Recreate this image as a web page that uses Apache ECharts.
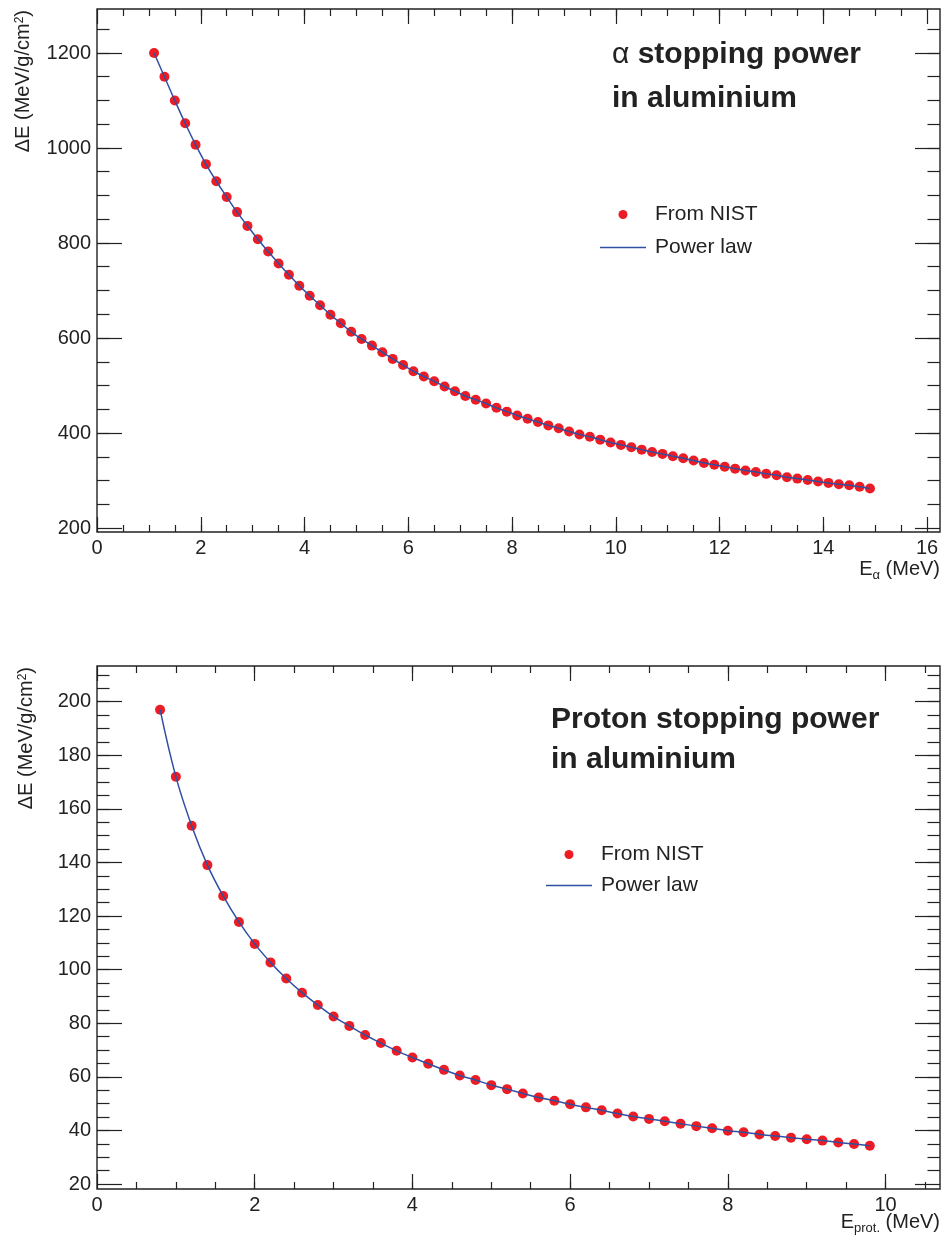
<!DOCTYPE html>
<html>
<head>
<meta charset="utf-8">
<title>Stopping power in aluminium</title>
<script src="https://cdn.jsdelivr.net/npm/echarts@6/dist/echarts.min.js"></script>
<style>
  html, body { margin: 0; padding: 0; background: #fff; }
  #container { width: 944px; height: 1241px; }
</style>
</head>
<body>
<div id="container"></div>
<script>
// alpha particles in Al (NIST points), MeV and MeV/g/cm2
const alphaEnergy = [
  1.1, 1.3, 1.5, 1.7, 1.9, 2.1, 2.3, 2.5, 2.7, 2.9,
  3.1, 3.3, 3.5, 3.7, 3.9, 4.1, 4.3, 4.5, 4.7, 4.9,
  5.1, 5.3, 5.5, 5.7, 5.9, 6.1, 6.3, 6.5, 6.7, 6.9,
  7.1, 7.3, 7.5, 7.7, 7.9, 8.1, 8.3, 8.5, 8.7, 8.9,
  9.1, 9.3, 9.5, 9.7, 9.9, 10.1, 10.3, 10.5, 10.7, 10.9,
  11.1, 11.3, 11.5, 11.7, 11.9, 12.1, 12.3, 12.5, 12.7, 12.9,
  13.1, 13.3, 13.5, 13.7, 13.9, 14.1, 14.3, 14.5, 14.7, 14.9
];
const alphaStopping = [
  1200, 1150, 1100, 1052, 1007, 966, 930, 897, 865, 836,
  808, 782, 757, 733, 710, 689, 669, 649, 631, 613,
  598, 584, 570, 556, 543, 530, 519, 509, 498, 488,
  478, 470, 462, 453, 445, 437, 430, 423, 416, 410,
  403, 397, 392, 386, 380, 375, 370, 365, 360, 356,
  351, 347, 342, 337, 333, 329, 325, 321, 318, 314,
  311, 307, 304, 301, 298, 295, 292, 290, 287, 283
];

// protons in Al
const protonEnergy = [
  0.8, 1.0, 1.2, 1.4, 1.6, 1.8, 2.0, 2.2, 2.4, 2.6,
  2.8, 3.0, 3.2, 3.4, 3.6, 3.8, 4.0, 4.2, 4.4, 4.6,
  4.8, 5.0, 5.2, 5.4, 5.6, 5.8, 6.0, 6.2, 6.4, 6.6,
  6.8, 7.0, 7.2, 7.4, 7.6, 7.8, 8.0, 8.2, 8.4, 8.6,
  8.8, 9.0, 9.2, 9.4, 9.6, 9.8
];
const protonStopping = [
  197.0, 172.0, 153.7, 139.0, 127.5, 117.8, 109.6, 102.7, 96.7, 91.4,
  86.8, 82.5, 79.0, 75.6, 72.6, 69.7, 67.2, 64.9, 62.6, 60.5,
  58.8, 56.9, 55.4, 53.8, 52.3, 51.1, 49.8, 48.6, 47.5, 46.3,
  45.2, 44.3, 43.4, 42.5, 41.6, 40.8, 39.9, 39.3, 38.5, 37.9,
  37.3, 36.7, 36.2, 35.5, 34.9, 34.3
];

// tick labels
const alphaXTicks = [0, 2, 4, 6, 8, 10, 12, 14, 16];
const alphaYTicks = [200, 400, 600, 800, 1000, 1200];
const protonXTicks = [0, 2, 4, 6, 8, 10];
const protonYTicks = [20, 40, 60, 80, 100, 120, 140, 160, 180, 200];

const ink = '#222';
const red = '#ec1c24';
const blue = '#2f4fa2';
const font = "'Liberation Sans', Arial, Helvetica, sans-serif";

// small ticks between the labelled ones
function minorTicks(from, to, step) {
  const out = [];
  for (let i = 0; from + i * step <= to + 1e-9; i++) {
    out.push(Math.round((from + i * step) * 1000) / 1000);
  }
  return out;
}

function pairs(xs, ys) {
  return xs.map((x, i) => [x, ys[i]]);
}

function tick(len, values) {
  return { show: true, inside: true, length: len, customValues: values, lineStyle: { color: ink, width: 1.2 } };
}

function tickLabel(values) {
  return { customValues: values, margin: 6, fontSize: 20, color: ink, fontFamily: font, formatter: v => String(v) };
}

// major axes live on grid g, minor ones on the overlay grid g + 1
function xAxes(g, min, max, major, minor) {
  const base = { type: 'value', min: min, max: max, axisLine: { show: false, onZero: false }, splitLine: { show: false } };
  return [
    { ...base, gridIndex: g, position: 'bottom', axisTick: tick(15, major), axisLabel: tickLabel(major) },
    { ...base, gridIndex: g, position: 'top', axisTick: tick(15, major), axisLabel: { show: false } },
    { ...base, gridIndex: g + 1, position: 'bottom', axisTick: tick(7, minor), axisLabel: { show: false } },
    { ...base, gridIndex: g + 1, position: 'top', axisTick: tick(7, minor), axisLabel: { show: false } }
  ];
}

function yAxes(g, min, max, major, minor) {
  const base = { type: 'value', min: min, max: max, axisLine: { show: false, onZero: false }, splitLine: { show: false } };
  return [
    { ...base, gridIndex: g, position: 'left', axisTick: tick(25, major), axisLabel: tickLabel(major) },
    { ...base, gridIndex: g, position: 'right', axisTick: tick(25, major), axisLabel: { show: false } },
    { ...base, gridIndex: g + 1, position: 'left', axisTick: tick(12.5, minor), axisLabel: { show: false } },
    { ...base, gridIndex: g + 1, position: 'right', axisTick: tick(12.5, minor), axisLabel: { show: false } }
  ];
}

function panelSeries(axisIdx, xs, ys) {
  return [
    { type: 'scatter', name: 'From NIST', xAxisIndex: axisIdx, yAxisIndex: axisIdx,
      data: pairs(xs, ys), symbolSize: 10, itemStyle: { color: red, opacity: 1 }, z: 2 },
    { type: 'line', name: 'Power law', xAxisIndex: axisIdx, yAxisIndex: axisIdx,
      data: pairs(xs, ys), symbol: 'none', showSymbol: false, smooth: 0.4,
      lineStyle: { color: blue, width: 1.5 }, itemStyle: { color: blue }, z: 3 }
  ];
}

function legendAt(left, top, gap) {
  return {
    data: [
      { name: 'From NIST', icon: 'circle' },
      { name: 'Power law', icon: 'path://M0,0 H46 V1.5 H0 Z' }
    ],
    orient: 'vertical', left: left, top: top,
    itemWidth: 46, itemHeight: 9, itemGap: gap, selectedMode: false,
    textStyle: { fontSize: 21, color: ink, fontFamily: font, lineHeight: 21, padding: [0, 0, 0, 4] }
  };
}

const titleRich = {
  a: { fontSize: 30, fontFamily: font, fill: ink },
  b: { fontSize: 30, fontFamily: font, fontWeight: 'bold', fill: ink }
};
const axisRich = {
  n: { fontSize: 20, fontFamily: font, fill: ink, verticalAlign: 'top' },
  s: { fontSize: 13, fontFamily: font, fill: ink, verticalAlign: 'top', padding: [10, 0, 0, 0] },
  p: { fontSize: 12, fontFamily: font, fill: ink, verticalAlign: 'top' }
};

function label(x, y, text) {
  return { type: 'text', x: x, y: y, silent: true,
    style: { text: text, rich: titleRich, fontFamily: font, fontSize: 30, fill: ink, align: 'left', verticalAlign: 'middle' } };
}

function axisTitle(x, y, text, rotated) {
  return { type: 'text', x: x, y: y, rotation: rotated ? Math.PI / 2 : 0, silent: true,
    style: { text: text, rich: axisRich, align: 'right', verticalAlign: rotated ? 'middle' : 'top',
      fontFamily: font, fontSize: 20, fill: ink } };
}

const chart = echarts.init(document.getElementById('container'));

chart.setOption({
  animation: false,
  backgroundColor: '#fff',
  grid: [
    { left: 97, top: 9, width: 843, height: 523, show: true, borderColor: ink, borderWidth: 1.4 },
    { left: 97, top: 9, width: 843, height: 523, show: false },
    { left: 97, top: 666, width: 843, height: 523, show: true, borderColor: ink, borderWidth: 1.4 },
    { left: 97, top: 666, width: 843, height: 523, show: false }
  ],
  xAxis: [
    ...xAxes(0, 0, 16.25, alphaXTicks, minorTicks(0.5, 15.5, 0.5)),
    ...xAxes(2, 0, 10.69, protonXTicks, minorTicks(0.5, 10.5, 0.5))
  ],
  yAxis: [
    ...yAxes(0, 191.6, 1292.6, alphaYTicks, minorTicks(250, 1250, 50)),
    ...yAxes(2, 18.14, 213.3, protonYTicks, minorTicks(25, 210, 5))
  ],
  legend: [legendAt(595, 199, 12), legendAt(541, 839, 10)],
  series: [
    ...panelSeries(0, alphaEnergy, alphaStopping),
    ...panelSeries(4, protonEnergy, protonStopping)
  ],
  graphic: [
    // panel titles
    label(612, 55, '{a|α} {b|stopping power}'),
    label(612, 99, '{b|in aluminium}'),
    label(551, 720, '{b|Proton stopping power}'),
    label(551, 760, '{b|in aluminium}'),
    // axis titles
    axisTitle(940, 559, '{n|E}{s|α}{n| (MeV)}', false),
    axisTitle(940, 1212, '{n|E}{s|prot.}{n| (MeV)}', false),
    axisTitle(23.5, 10, '{n|ΔE (MeV/g/cm}{p|2}{n|)}', true),
    axisTitle(26.5, 667, '{n|ΔE (MeV/g/cm}{p|2}{n|)}', true)
  ]
});
</script>
</body>
</html>
